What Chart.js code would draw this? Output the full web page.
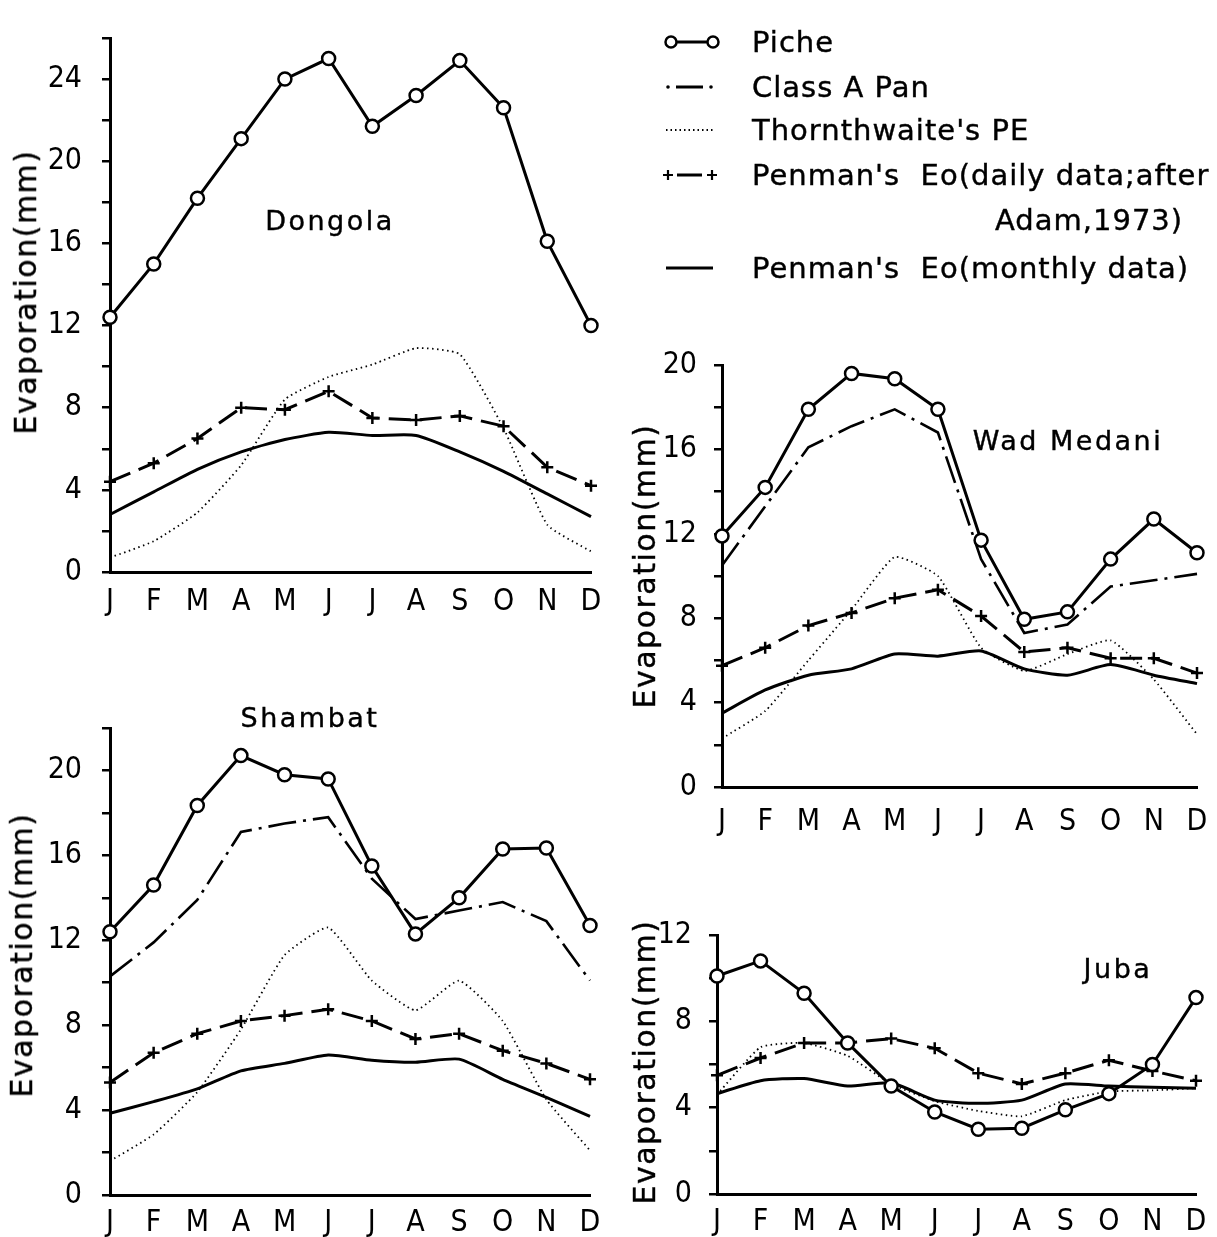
<!DOCTYPE html>
<html>
<head>
<meta charset="utf-8">
<title>Evaporation at four Sudan stations</title>
<script src="https://cdn.jsdelivr.net/npm/chart.js"></script>
<style>
  body { margin: 0; background: #fff; }
  #page { position: relative; width: 1217px; height: 1237px; overflow: hidden; background: #fff; }
  canvas { position: absolute; }
  .txt { position: absolute; font-family: 'DejaVu Sans', sans-serif; color: #000; white-space: nowrap; line-height: 1; z-index: 2; -webkit-text-stroke: 0.4px #000; }
  .station { font-size: 27px; letter-spacing: 2.5px; transform: translate(-50%, -50%); }
  .ytitle { font-size: 30px; letter-spacing: 1.5px; transform: translate(-50%, -50%) rotate(-90deg); }
  .leg { font-size: 29px; letter-spacing: 1px; transform: translateY(-50%); }
  svg { position: absolute; left: 0; top: 0; z-index: 1; }
</style>
</head>
<body>
<div id="page">
  <canvas id="dongola" width="620" height="640" style="left:0;top:0"></canvas>
  <canvas id="wadmedani" width="597" height="520" style="left:620px;top:330px"></canvas>
  <canvas id="shambat" width="620" height="547" style="left:0;top:690px"></canvas>
  <canvas id="juba" width="597" height="337" style="left:620px;top:900px"></canvas>

  <div class="txt station" style="left:330px;top:220px">Dongola</div>
  <div class="txt station" style="left:1068px;top:440px">Wad Medani</div>
  <div class="txt station" style="left:310px;top:717px">Shambat</div>
  <div class="txt station" style="left:1118px;top:968px">Juba</div>

  <div class="txt ytitle" style="left:26px;top:292px">Evaporation(mm)</div>
  <div class="txt ytitle" style="left:645px;top:566px">Evaporation(mm)</div>
  <div class="txt ytitle" style="left:22px;top:955px">Evaporation(mm)</div>
  <div class="txt ytitle" style="left:645px;top:1062px">Evaporation(mm)</div>

  <svg width="1217" height="300">
    <line x1="672" y1="42" x2="712" y2="42" stroke="#000" stroke-width="3"/>
    <circle cx="671" cy="42" r="5.5" fill="#fff" stroke="#000" stroke-width="2.5"/>
    <circle cx="713" cy="42" r="5.5" fill="#fff" stroke="#000" stroke-width="2.5"/>
    <circle cx="668" cy="87" r="1.8" fill="#000"/>
    <line x1="676" y1="87" x2="703" y2="87" stroke="#000" stroke-width="3"/>
    <circle cx="711" cy="87" r="1.8" fill="#000"/>
    <line x1="666" y1="130" x2="713" y2="130" stroke="#000" stroke-width="1.8" stroke-dasharray="1.5 3"/>
    <path d="M663 175 h10 M668 170 v10 M707 175 h10 M712 170 v10" stroke="#000" stroke-width="2.2"/>
    <line x1="677" y1="175" x2="702" y2="175" stroke="#000" stroke-width="3"/>
    <line x1="666" y1="268" x2="713" y2="268" stroke="#000" stroke-width="3"/>
  </svg>
  <div class="txt leg" style="left:752px;top:42px">Piche</div>
  <div class="txt leg" style="left:752px;top:87px">Class A Pan</div>
  <div class="txt leg" style="left:752px;top:130px">Thornthwaite's PE</div>
  <div class="txt leg" style="left:752px;top:175px">Penman's&nbsp; Eo(daily data;after</div>
  <div class="txt leg" style="left:995px;top:220px">Adam,1973)</div>
  <div class="txt leg" style="left:752px;top:268px">Penman's&nbsp; Eo(monthly data)</div>
</div>
<script>
var months = ['J', 'F', 'M', 'A', 'M', 'J', 'J', 'A', 'S', 'O', 'N', 'D'];

// Dongola
var dongolaPiche = [12.4, 15.0, 18.2, 21.1, 24.0, 25.0, 21.7, 23.2, 24.9, 22.6, 16.1, 12.0];
var dongolaThorn = [0.7, 1.5, 2.9, 5.2, 8.4, 9.5, 10.1, 10.9, 10.6, 7.0, 2.3, 1.0];
var dongolaDaily = [4.4, 5.3, 6.5, 8.0, 7.9, 8.8, 7.5, 7.4, 7.6, 7.1, 5.1, 4.2];
var dongolaMonthly = [2.8, 3.9, 5.0, 5.85, 6.45, 6.8, 6.65, 6.65, 5.85, 4.9, 3.8, 2.7];

// Wad Medani
var medaniPiche = [11.9, 14.2, 17.9, 19.6, 19.35, 17.9, 11.7, 7.95, 8.3, 10.8, 12.7, 11.1];
var medaniPan = [10.5, 13.3, 16.1, 17.1, 17.9, 16.8, 10.8, 7.3, 7.7, 9.5, 9.8, 10.1];
var medaniThorn = [2.3, 3.6, 6.0, 8.4, 10.9, 10.0, 6.6, 5.5, 6.3, 6.95, 5.1, 2.5];
var medaniDaily = [5.75, 6.6, 7.65, 8.25, 8.95, 9.35, 8.1, 6.4, 6.6, 6.1, 6.1, 5.4];
var medaniMonthly = [3.5, 4.6, 5.3, 5.6, 6.3, 6.2, 6.45, 5.6, 5.3, 5.8, 5.3, 4.9];

// Shambat
var shambatPiche = [12.4, 14.6, 18.35, 20.7, 19.8, 19.6, 15.5, 12.3, 14.0, 16.3, 16.35, 12.7];
var shambatPan = [10.3, 11.9, 13.9, 17.1, 17.5, 17.8, 14.9, 13.0, 13.4, 13.8, 12.9, 10.1];
var shambatThorn = [1.6, 2.85, 4.85, 7.8, 11.3, 12.6, 10.1, 8.7, 10.1, 8.2, 4.5, 2.1];
var shambatDaily = [5.3, 6.7, 7.6, 8.2, 8.45, 8.75, 8.2, 7.35, 7.6, 6.8, 6.2, 5.45];
var shambatMonthly = [3.85, 4.4, 5.0, 5.85, 6.2, 6.6, 6.35, 6.25, 6.4, 5.45, 4.6, 3.7];

// Juba
var jubaPiche = [10.1, 10.8, 9.3, 7.0, 5.0, 3.8, 3.0, 3.05, 3.9, 4.65, 6.0, 9.1];
var jubaThorn = [4.6, 6.8, 7.0, 6.4, 5.1, 4.3, 3.85, 3.6, 4.35, 4.75, 4.8, 4.9];
var jubaDaily = [5.5, 6.3, 7.0, 7.0, 7.2, 6.75, 5.6, 5.1, 5.6, 6.2, 5.7, 5.25];
var jubaMonthly = [4.65, 5.25, 5.35, 5.0, 5.15, 4.35, 4.2, 4.35, 5.1, 5.0, 4.95, 4.9];

var tickFont = { family: "'Liberation Sans Narrow', 'DejaVu Sans Condensed', sans-serif", size: 30 };

function buildSets(piche, pan, thorn, daily, monthly) {
  var sets = [];
  sets.push({ label: 'Piche', data: piche, borderColor: '#000', borderWidth: 3,
    pointStyle: 'circle', pointRadius: 6.5, pointBackgroundColor: '#fff',
    pointBorderColor: '#000', pointBorderWidth: 2.5, tension: 0, clip: false });
  if (pan) {
    sets.push({ label: 'Class A Pan', data: pan, borderColor: '#000', borderWidth: 2.6,
      borderDash: [28, 7, 3, 7], pointRadius: 0, tension: 0, clip: false });
  }
  sets.push({ label: "Thornthwaite's PE", data: thorn, borderColor: '#000', borderWidth: 1.8,
    borderDash: [1.5, 3.5], pointRadius: 0, tension: 0.15, clip: false });
  sets.push({ label: "Penman's Eo (daily)", data: daily, borderColor: '#000', borderWidth: 3,
    borderDash: [22, 9], pointStyle: 'cross', pointRadius: 6, pointBorderColor: '#000',
    pointBorderWidth: 2.5, tension: 0, clip: false });
  sets.push({ label: "Penman's Eo (monthly)", data: monthly, borderColor: '#000', borderWidth: 3,
    pointRadius: 0, tension: 0.2, clip: false });
  return sets;
}

function makePanel(id, sets, ymax, box) {
  new Chart(document.getElementById(id), {
    type: 'line',
    data: { labels: months, datasets: sets },
    options: {
      responsive: false,
      animation: false,
      devicePixelRatio: 1,
      layout: { padding: { top: box.top, right: box.right, left: 0, bottom: 0 } },
      plugins: { legend: { display: false }, tooltip: { enabled: false } },
      scales: {
        x: {
          type: 'category',
          offset: false,
          grid: { display: false, tickLength: 8 },
          border: { color: '#000', width: 3 },
          ticks: { color: '#000', font: tickFont, padding: box.xpad, autoSkip: false, maxRotation: 0 },
          afterFit: function (s) { s.height = box.xh; }
        },
        y: {
          min: 0,
          max: ymax,
          grid: { drawOnChartArea: false, color: '#000', lineWidth: 2.5, tickLength: 8 },
          border: { color: '#000', width: 3 },
          ticks: {
            stepSize: 2, autoSkip: false, color: '#000', font: tickFont, padding: box.ypad,
            callback: function (v) { return v % 4 === 0 ? v : ''; }
          },
          afterFit: function (s) { s.width = box.yw; }
        }
      }
    }
  });
}

makePanel('dongola', buildSets(dongolaPiche, null, dongolaThorn, dongolaDaily, dongolaMonthly), 26,
  { top: 16, right: 29, yw: 110, xh: 68, xpad: 4, ypad: 20 });
makePanel('wadmedani', buildSets(medaniPiche, medaniPan, medaniThorn, medaniDaily, medaniMonthly), 20,
  { top: 29, right: 20, yw: 102, xh: 63, xpad: 9, ypad: 17 });
makePanel('shambat', buildSets(shambatPiche, shambatPan, shambatThorn, shambatDaily, shambatMonthly), 22,
  { top: 36, right: 30, yw: 110, xh: 42, xpad: 2, ypad: 20 });
makePanel('juba', buildSets(jubaPiche, null, jubaThorn, jubaDaily, jubaMonthly), 12,
  { top: 35, right: 21, yw: 97, xh: 43, xpad: 2, ypad: 17 });
</script>
</body>
</html>
